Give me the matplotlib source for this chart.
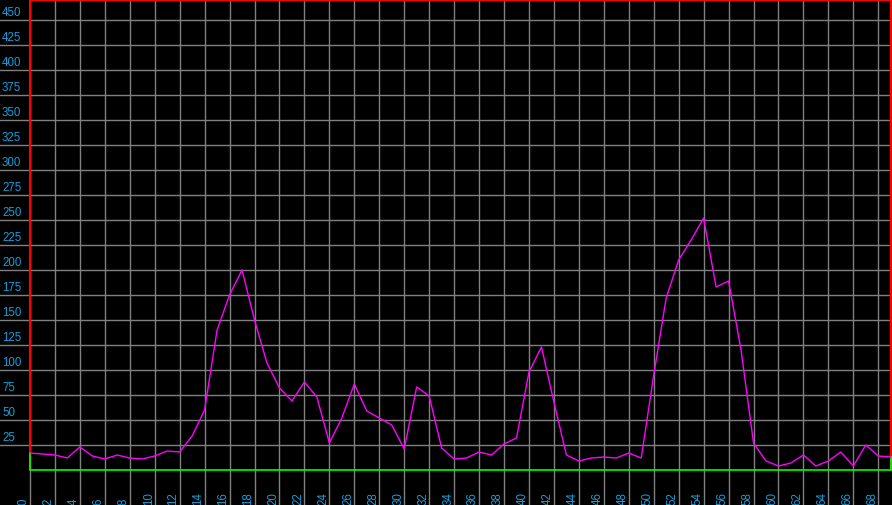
import matplotlib
matplotlib.use("Agg")
import matplotlib.pyplot as plt
import numpy as np

# values, one per x step (0..69)
values = [17, 16, 15, 12, 23, 14, 11, 15, 12, 11,
          14, 19, 18, 34, 60, 140, 175, 200, 150, 107,
          82, 69, 88, 73, 27, 52, 86, 59, 52, 45,
          21, 83, 74, 22, 11, 12, 18, 15, 26, 32,
          98, 123, 68, 15, 9, 12, 13, 12, 17, 12,
          95, 172, 210, 230, 252, 183, 189, 120, 27, 9,
          4, 7, 15, 4, 9, 18, 4, 25, 14, 13]
x_ticks = list(range(0, 69, 2))
y_ticks = list(range(25, 451, 25))

LABEL_COLOR = "#12a0dc"
FONT = ["Liberation Sans", "DejaVu Sans"]

x = np.arange(len(values))
x_end = x[-1]

fig = plt.figure(figsize=(8.92, 5.05), dpi=100, facecolor="black")
ax = fig.add_axes([0, 0, 1, 1])
ax.set_facecolor("black")
ax.set_xlim(-30 / 12.5, x_end + 0.1)
ax.set_ylim(-35, 470)

ax.set_xticks(x_ticks)
ax.set_yticks(y_ticks)
ax.tick_params(length=0, labelbottom=False, labelleft=False)
ax.grid(True, color="#808080", lw=1)
for s in ax.spines.values():
    s.set_visible(False)

# frame: red on top and sides, green closing the base
ax.plot([0, 0, x_end, x_end], [0, 470, 470, 0], color="#ff0000", lw=1.5, clip_on=False)
ax.plot([0, 0, x_end, x_end], [values[0], 0, 0, values[-1]], color="#00ff00", lw=1.2)

ax.plot(x, values, color="#ff00ff", lw=1)

for v in y_ticks:
    ax.text(-28 / 12.5, v + 1, str(v), color=LABEL_COLOR, fontsize=8.3,
            family=FONT, ha="left", va="bottom")
for t in x_ticks:
    ax.text(t, -35, str(t), color=LABEL_COLOR, fontsize=8.3, family=FONT,
            rotation=90, ha="right", va="bottom")

fig.savefig("out.png", dpi=100, facecolor="black")
